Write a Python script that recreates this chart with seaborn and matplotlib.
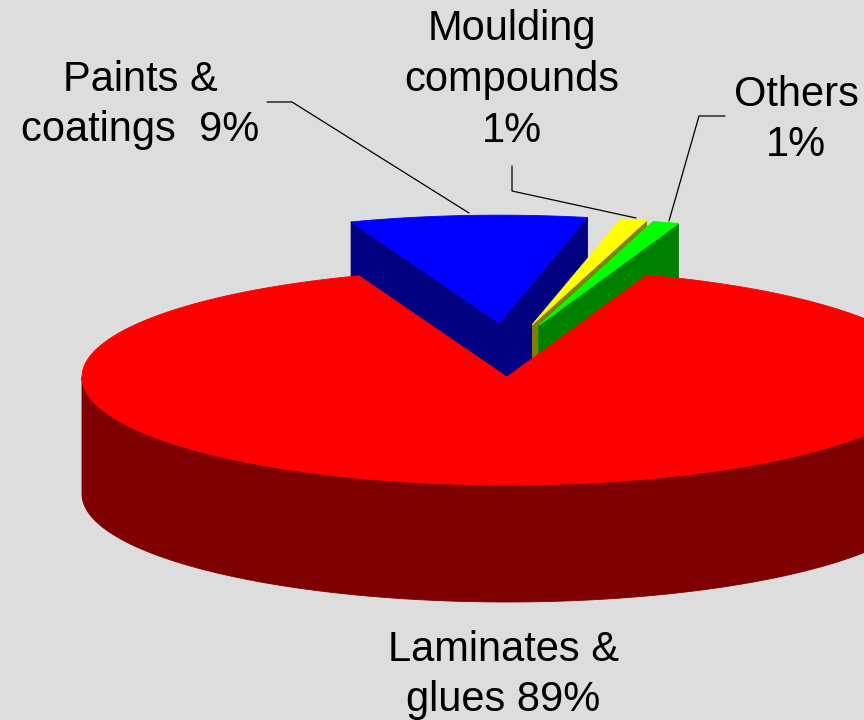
import matplotlib
matplotlib.use("Agg")

import matplotlib.pyplot as plt
import numpy as np
import seaborn as sns
from matplotlib.patches import Polygon


# data, clockwise from the start angle
categories = ["Laminates & glues", "Paints & coatings", "Moulding compounds", "Others"]
shares = [89, 9, 1, 1]
labels = ["Laminates &\nglues 89%", "Paints &\ncoatings  9%", "Moulding\ncompounds\n1%", "Others\n1%"]

# styling
top_colors = ["#FF0000", "#0000FF", "#FFFF00", "#00FF00"]
side_colors = ["#7F0000", "#000080", "#808000", "#008000"]
explode = [0.0, 0.5, 0.5, 0.5]
START_ANGLE = 430.8
BG = "#DDDDDD"

# projected geometry in pixels
CX, CY = 507, 377
RX, RY = 425, 108
DEPTH = 117
EXPLODE_XSCALE = 0.5


def rim(t, ox, oy, dz=0.0):
    r = np.radians(t)
    return CX + ox + RX * np.cos(r), CY + oy - RY * np.sin(r) + dz


def draw_slice(ax, t1, t2, ox, oy, top, side):
    kw = dict(linewidth=0.6, joinstyle="round")
    apex = (CX + ox, CY + oy)
    # radial faces that face the viewer
    for t, vis in ((t1, np.cos(np.radians(t1)) > 0), (t2, np.cos(np.radians(t2)) < 0)):
        if vis:
            x, y = rim(t, ox, oy)
            face = [apex, (x, y), (x, y + DEPTH), (apex[0], apex[1] + DEPTH)]
            ax.add_patch(Polygon(face, closed=True, facecolor=side, edgecolor=side, **kw))
    # front curved wall
    for k in range(-1, 3):
        lo, hi = max(t1, 180 + 360 * k), min(t2, 360 + 360 * k)
        if hi > lo:
            ts = np.linspace(lo, hi, 200)
            xs, ys = rim(ts, ox, oy)
            pts = list(zip(xs, ys)) + list(zip(xs[::-1], ys[::-1] + DEPTH))
            ax.add_patch(Polygon(pts, closed=True, facecolor=side, edgecolor=side, **kw))
    # top face
    ts = np.linspace(t1, t2, 300)
    xs, ys = rim(ts, ox, oy)
    pts = [apex] + list(zip(xs, ys))
    ax.add_patch(Polygon(pts, closed=True, facecolor=top, edgecolor=top, **kw))


sns.set_theme(style="white")
plt.rcParams["font.family"] = ["Liberation Sans", "DejaVu Sans"]

fig = plt.figure(figsize=(8.64, 7.2), dpi=100, facecolor=BG)
ax = fig.add_axes([0, 0, 1, 1])
ax.set_facecolor(BG)
ax.set_xlim(0, 864)
ax.set_ylim(720, 0)
ax.axis("off")

# slice angles (clockwise from start)
spans = np.array(shares) / sum(shares) * 360.0
ends = START_ANGLE - np.concatenate([[0], np.cumsum(spans)[:-1]])
starts = ends - spans

slices = []
for i in range(len(shares)):
    mid = np.radians((starts[i] + ends[i]) / 2)
    ox = explode[i] * RX * np.cos(mid) * EXPLODE_XSCALE
    oy = -explode[i] * RY * np.sin(mid)
    slices.append((np.sin(mid), starts[i], ends[i], ox, oy, i))

# back slices first
for _, t1, t2, ox, oy, i in sorted(slices, key=lambda s: -s[0]):
    draw_slice(ax, t1, t2, ox, oy, top_colors[i], side_colors[i])

# leader lines
line_kw = dict(color="black", linewidth=0.9)
ax.plot([267, 292, 469], [102, 102, 213], **line_kw)
ax.plot([512, 512, 636], [166, 191, 218], **line_kw)
ax.plot([725, 699, 669], [116, 116, 221], **line_kw)

# labels
txt_kw = dict(fontsize=30, ha="center", va="center", color="black", linespacing=1.35)
ax.text(140, 105, labels[1], **txt_kw)
ax.text(512, 80, labels[2], **txt_kw)
ax.text(796, 120, labels[3], **txt_kw)
ax.text(503, 675, labels[0], **txt_kw)

fig.savefig("out.png", dpi=100, facecolor=BG)
